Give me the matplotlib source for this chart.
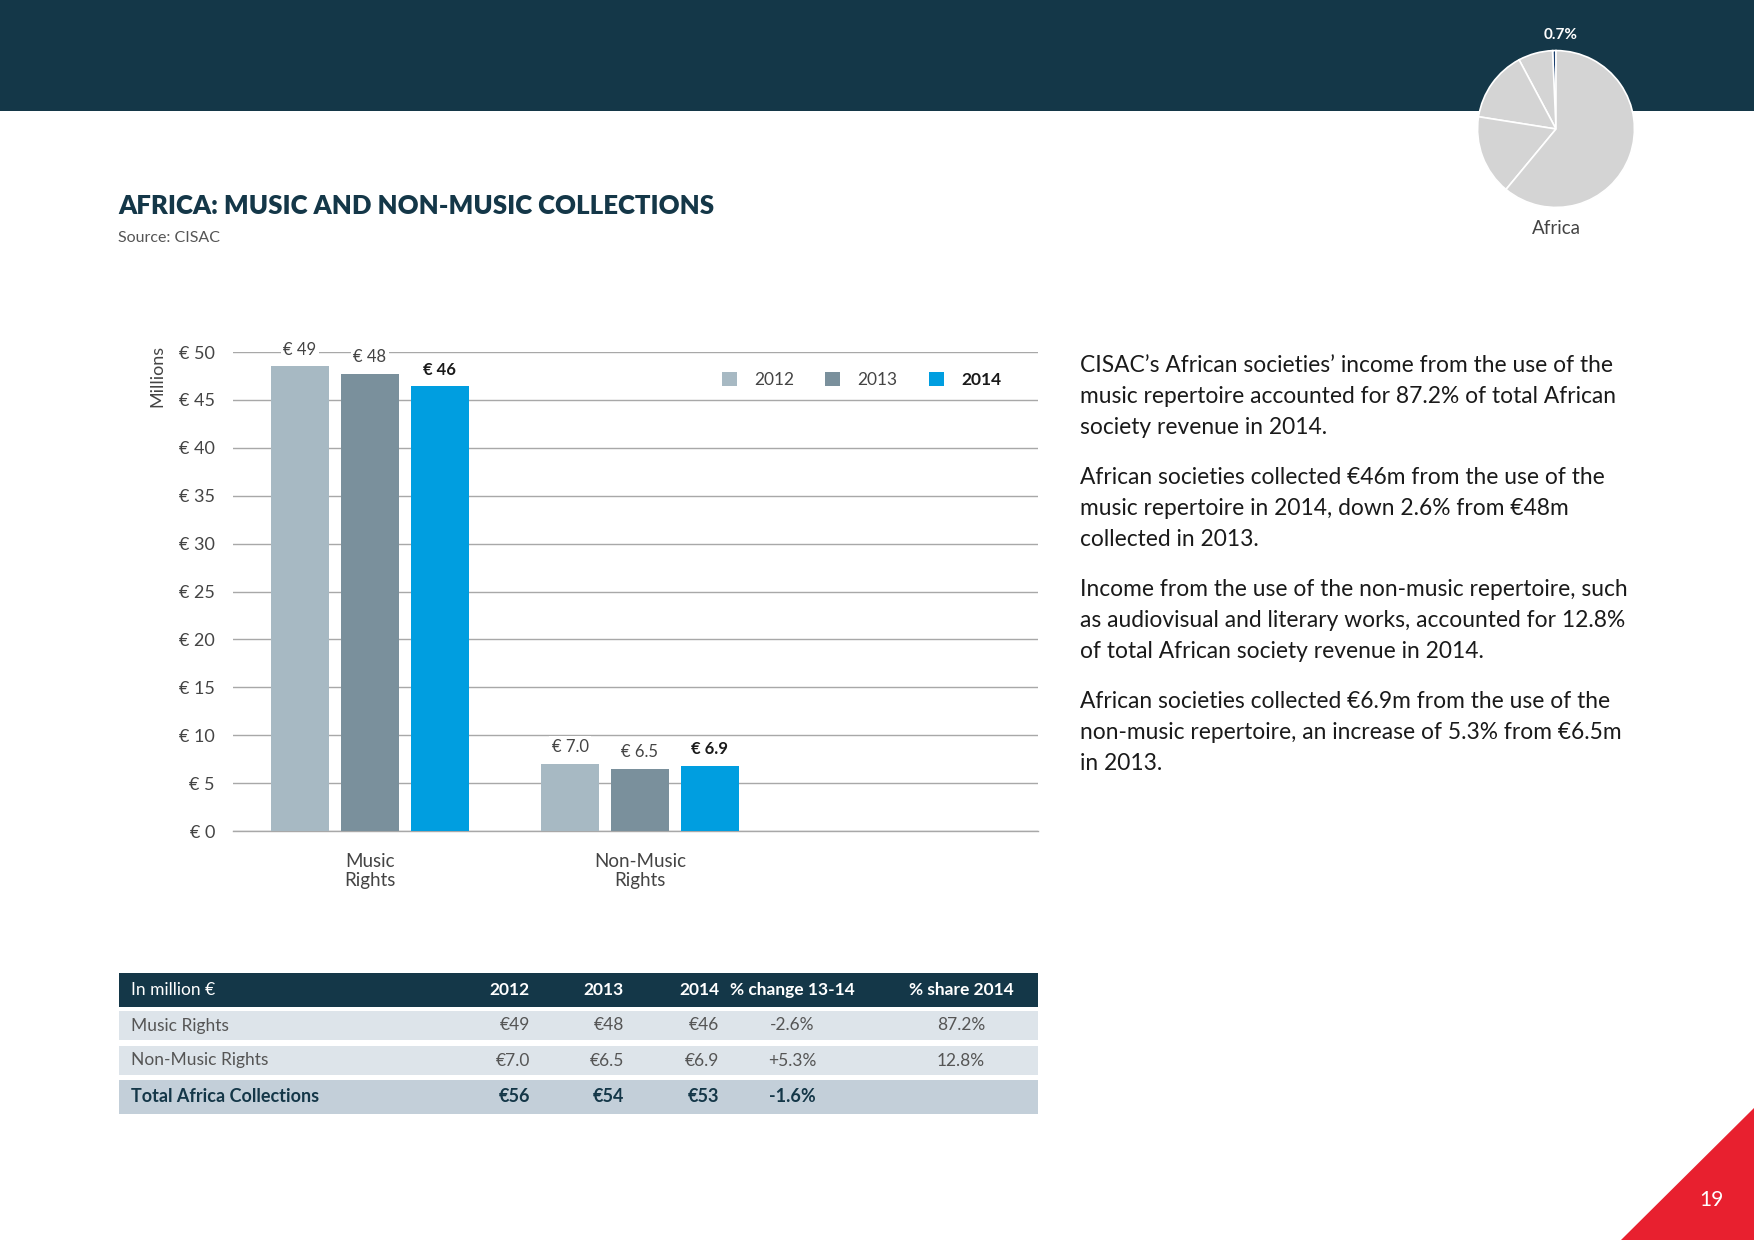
#!/usr/bin/env python3
# Africa: music and non-music collections (CISAC report page)

import matplotlib
matplotlib.use("Agg")
import matplotlib.pyplot as plt
from matplotlib.patches import Rectangle, Polygon

plt.rcParams['font.family'] = ['Lato', 'DejaVu Sans']

# Data
categories = ['Music\nRights', 'Non-Music\nRights']
years = ['2012', '2013', '2014']
music_values = [48.5, 47.7, 46.4]
nonmusic_values = [7.0, 6.5, 6.8]
music_labels = ['€ 49', '€ 48', '€ 46']
nonmusic_labels = ['€ 7.0', '€ 6.5', '€ 6.9']
y_ticks = [0, 5, 10, 15, 20, 25, 30, 35, 40, 45, 50]

# pie of regional shares (Africa highlighted)
pie_regions = ['Africa', 'Latin America', 'Asia-Pacific', 'North America', 'Europe']
pie_shares = [0.7, 7.1, 14.7, 16.5, 61.0]

table_header = ['In million €', '2012', '2013', '2014', '% change 13-14', '% share 2014']
table_rows = [
    ['Music Rights', '€49', '€48', '€46', '-2.6%', '87.2%'],
    ['Non-Music Rights', '€7.0', '€6.5', '€6.9', '+5.3%', '12.8%'],
    ['Total Africa Collections', '€56', '€54', '€53', '-1.6%', ''],
]

paragraphs = [
    "CISAC’s African societies’ income from the use of the\n"
    "music repertoire accounted for 87.2% of total African\n"
    "society revenue in 2014.",
    "African societies collected €46m from the use of the\n"
    "music repertoire in 2014, down 2.6% from €48m\n"
    "collected in 2013.",
    "Income from the use of the non-music repertoire, such\n"
    "as audiovisual and literary works, accounted for 12.8%\n"
    "of total African society revenue in 2014.",
    "African societies collected €6.9m from the use of the\n"
    "non-music repertoire, an increase of 5.3% from €6.5m\n"
    "in 2013.",
]

# Styling
NAVY = '#143748'
BAR_COLORS = ['#a7b9c3', '#7a909c', '#009ee0']
GRID = '#a8a8a8'
TEXT = '#444444'
W, H = 1754, 1240


def fx(px):
    return px / W


def fy(py):
    return 1 - py / H


fig = plt.figure(figsize=(W / 100, H / 100), dpi=100)
fig.patch.set_facecolor('white')

# header band
fig.patches.append(Rectangle((0, fy(111)), 1, 111 / H, transform=fig.transFigure,
                             facecolor=NAVY, edgecolor='none', zorder=-1))
# red corner
fig.patches.append(Polygon([(fx(1621), 0), (1, fy(1108)), (1, 0)], closed=True,
                           transform=fig.transFigure, facecolor='#e8202f',
                           edgecolor='none', zorder=-1))
fig.text(fx(1711), fy(1200), '19', color='white', fontsize=15, ha='center', va='center')

# Title
fig.text(fx(118), fy(206), 'AFRICA: MUSIC AND NON-MUSIC COLLECTIONS', color=NAVY,
         fontsize=18.5, fontweight='heavy', ha='left', va='center')
fig.text(fx(118), fy(238), 'Source: CISAC', color='#555555', fontsize=11.5,
         ha='left', va='center')

# Pie
pax = fig.add_axes([fx(1476), fy(209), 160 / W, 160 / H])
pax.set_zorder(2)
pie_colors = ['#1b3f6e'] + ['#d4d4d4'] * (len(pie_shares) - 1)
pax.pie(pie_shares, colors=pie_colors, startangle=90, counterclock=True,
        wedgeprops=dict(edgecolor='white', linewidth=1.2))
pax.set_xlim(-1.02, 1.02)
pax.set_ylim(-1.02, 1.02)
pax.set_aspect('equal')
fig.text(fx(1561), fy(35), '0.7%', color='white', fontsize=11, fontweight='bold',
         ha='center', va='center')
fig.text(fx(1556), fy(229), 'Africa', color=TEXT, fontsize=13.5, ha='center', va='center')

# Bar chart
ax = fig.add_axes([fx(233), fy(831), (1038 - 233) / W, (831 - 352) / H])
offset = 0.259
width = 0.215
group_x = [0, 1]
containers = []
for i, year in enumerate(years):
    vals = [music_values[i], nonmusic_values[i]]
    bc = ax.bar([g + (i - 1) * offset for g in group_x], vals, width,
                color=BAR_COLORS[i], zorder=3, label=year)
    containers.append(bc)
    labels = [music_labels[i], nonmusic_labels[i]]
    for rect, lab in zip(bc, labels):
        ax.annotate(lab, (rect.get_x() + rect.get_width() / 2, rect.get_height()),
                    xytext=(0, 12), textcoords='offset points', ha='center', va='center',
                    fontsize=12, color='#1a1a1a' if i == 2 else TEXT,
                    fontweight='bold' if i == 2 else 'normal',
                    bbox=dict(facecolor='white', edgecolor='none', pad=2),
                    annotation_clip=False, zorder=4)

ax.set_xlim(-0.507, 2.474)
ax.set_ylim(0, 50)
ax.set_yticks(y_ticks)
ax.set_yticklabels([f'€ {v}' for v in y_ticks])
ax.set_xticks(group_x)
ax.set_xticklabels(categories, fontsize=13.5, color=TEXT, linespacing=1.15)
ax.tick_params(axis='y', length=0, pad=13, labelsize=13, labelcolor=TEXT)
ax.tick_params(axis='x', length=0, pad=16)
ax.yaxis.grid(True, color=GRID, linewidth=1, zorder=0)
ax.set_axisbelow(True)
for side in ['left', 'right', 'top']:
    ax.spines[side].set_visible(False)
ax.spines['bottom'].set_color(GRID)
ax.spines['bottom'].set_linewidth(1)
fig.text(fx(157), fy(376), 'Millions', rotation=90, color=TEXT, fontsize=13,
         ha='center', va='center')

leg = ax.legend(containers, years, ncol=3, frameon=False, loc='center right',
                bbox_to_anchor=(0.965, 0.941), handlelength=0.85, handleheight=0.85,
                handletextpad=1.0, columnspacing=1.8, fontsize=12.5, borderpad=0)
for t in leg.get_texts():
    t.set_color(TEXT)
leg.get_texts()[2].set_fontweight('bold')
leg.get_texts()[2].set_color('#1a1a1a')

# Right-hand commentary
para_tops = [355, 467, 579, 691]
for top, para in zip(para_tops, paragraphs):
    fig.text(fx(1080), fy(top), para, color='#1a1a1a', fontsize=16.4, ha='left',
             va='top', linespacing=1.58)

# Table
row_tops = [973, 1011, 1046, 1080]
row_bottoms = [1007, 1040, 1075, 1114]
row_colors = [NAVY, '#dde4ea', '#dde4ea', '#c3cfd9']
tleft, tright = 118.6, 1038
col_x = [131, 530, 624, 719, 792, 961]
col_ha = ['left', 'right', 'right', 'right', 'center', 'center']
for r, (top, bot, col) in enumerate(zip(row_tops, row_bottoms, row_colors)):
    fig.patches.append(Rectangle((fx(tleft), fy(bot)), (tright - tleft) / W, (bot - top) / H,
                                 transform=fig.transFigure, facecolor=col,
                                 edgecolor='none', zorder=-1))
    cells = table_header if r == 0 else table_rows[r - 1]
    ymid = fy((top + bot) / 2)
    for c, cell in enumerate(cells):
        if r == 0:
            color, weight = 'white', 'bold'
            if c == 0:
                weight = 'normal'
        elif r == 3:
            color, weight = NAVY, 'bold'
        else:
            color, weight = '#555555', 'normal'
        fig.text(fx(col_x[c]), ymid, cell, color=color, fontweight=weight,
                 fontsize=13 if r == 3 else 12.5, ha=col_ha[c], va='center')

fig.savefig('out.png', dpi=100)
